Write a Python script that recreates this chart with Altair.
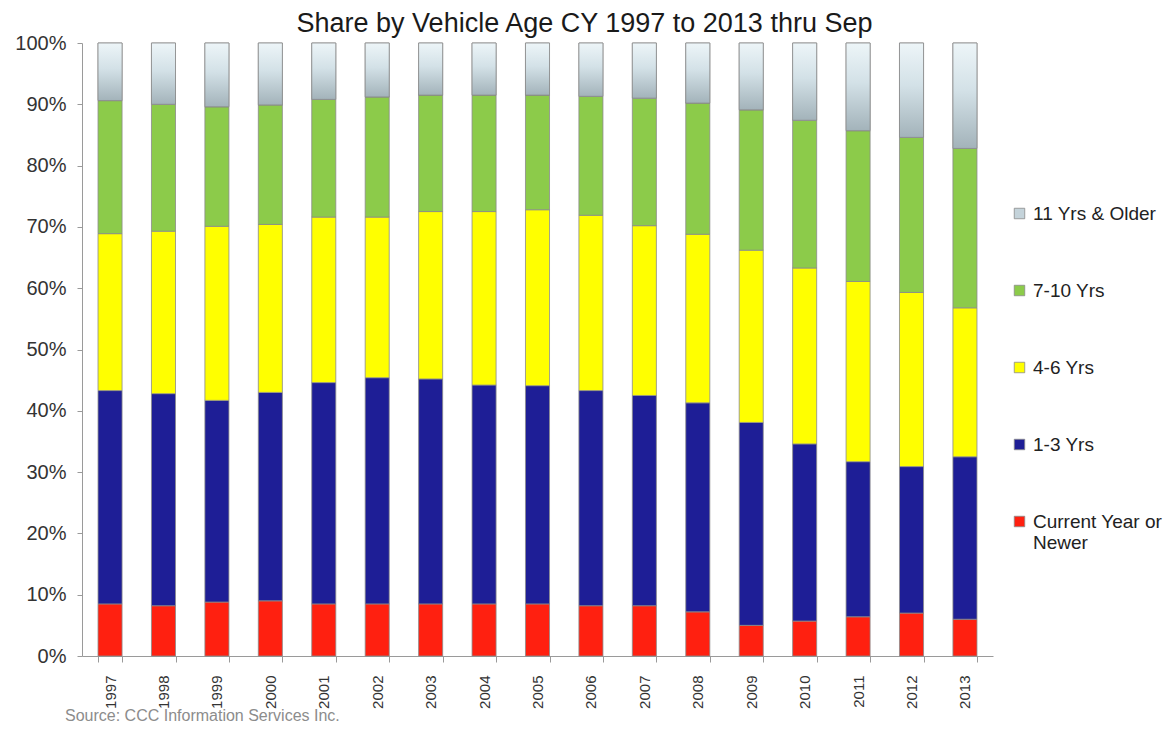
import altair as alt
import pandas as pd

years = [str(y) for y in range(1997, 2014)]
series = ["Current Year or Newer", "1-3 Yrs", "4-6 Yrs", "7-10 Yrs", "11 Yrs & Older"]
colors = ["#FF2010", "#1E1E96", "#FFFF00", "#8CCB4A", "#C4D3DA"]

current = [8.5, 8.2, 8.8, 9.0, 8.5, 8.5, 8.5, 8.5, 8.5, 8.2, 8.2, 7.2, 5.0, 5.7, 6.4, 7.0, 6.0]
yrs_1_3 = [34.8, 34.6, 32.9, 34.0, 36.1, 36.9, 36.7, 35.7, 35.6, 35.1, 34.3, 34.1, 33.1, 28.9, 25.3, 23.9, 26.5]
yrs_4_6 = [25.6, 26.5, 28.4, 27.4, 27.0, 26.2, 27.3, 28.3, 28.7, 28.6, 27.7, 27.5, 28.1, 28.7, 29.4, 28.4, 24.3]
yrs_7_10 = [21.7, 20.7, 19.5, 19.5, 19.2, 19.6, 19.0, 19.0, 18.7, 19.4, 20.8, 21.4, 22.9, 24.1, 24.6, 25.3, 26.0]
yrs_11 = [9.4, 10.0, 10.4, 10.1, 9.2, 8.8, 8.5, 8.5, 8.5, 8.7, 9.0, 9.8, 10.9, 12.6, 14.3, 15.4, 17.2]

title_text = "Share by Vehicle Age CY 1997 to 2013 thru Sep"
source_text = "Source: CCC  Information Services Inc."

all_vals = [current, yrs_1_3, yrs_4_6, yrs_7_10, yrs_11]
rows = []
for i, s in enumerate(series):
    for y, v in zip(years, all_vals[i]):
        rows.append({"Year": y, "Series": s, "Share": v, "Order": i})
df = pd.DataFrame(rows)

# top (oldest) segment: start = sum of the lower four
old_rows = []
for j, y in enumerate(years):
    base = sum(all_vals[k][j] for k in range(4))
    old_rows.append({"Year": y, "Start": base, "End": base + yrs_11[j]})
df_old = pd.DataFrame(old_rows)

FONT = "Liberation Sans"
x_enc = alt.X("Year:N", sort=years, title=None,
              scale=alt.Scale(paddingInner=0.55, paddingOuter=0.3),
              axis=alt.Axis(labelAngle=270, labelFontSize=15, labelColor="#333333",
                            labelFont=FONT, tickBand="extent", domainColor="#9a9a9a",
                            tickColor="#9a9a9a", tickSize=6, labelPadding=13,
                            labelBaseline="middle", labelAlign="right"))
y_scale = alt.Scale(domain=[0, 100], nice=False)

bars = alt.Chart(df).mark_bar(stroke="#8a8a8a", strokeWidth=0.8).encode(
    x=x_enc,
    y=alt.Y("Share:Q", stack="zero", title=None, scale=y_scale,
            axis=alt.Axis(values=list(range(0, 101, 10)), labelExpr="datum.value + '%'",
                          labelFontSize=20, labelColor="#333333", labelFont=FONT,
                          grid=False, domainColor="#9a9a9a", tickColor="#9a9a9a",
                          tickSize=5, labelPadding=11)),
    color=alt.Color("Series:N", scale=alt.Scale(domain=series, range=colors),
                    sort=series,
                    legend=alt.Legend(title=None, orient="none", legendX=928, legendY=161,
                                      direction="vertical", symbolType="square",
                                      symbolSize=110, symbolStrokeColor="#8a8a8a",
                                      symbolStrokeWidth=0.8,
                                      labelFontSize=19, labelFont=FONT, labelColor="#222222",
                                      rowPadding=57, labelOffset=4, labelLimit=300,
                                      values=series[::-1],
                                      labelExpr="datum.label == 'Current Year or Newer' ? ['Current Year or', 'Newer'] : datum.label")),
    order=alt.Order("Order:Q", sort="ascending"),
)

grad = alt.Gradient(gradient="linear", x1=0, y1=0, x2=0, y2=1,
                    stops=[alt.GradientStop(color="#EDF5F8", offset=0),
                           alt.GradientStop(color="#D3E1E7", offset=0.45),
                           alt.GradientStop(color="#A3B3BA", offset=1)])
old = alt.Chart(df_old).mark_bar(color=grad, stroke="#8a8a8a", strokeWidth=0.8).encode(
    x=alt.X("Year:N", sort=years),
    y=alt.Y("Start:Q", scale=y_scale),
    y2="End:Q",
)

src_df = pd.DataFrame({"t": [source_text]})
source = alt.Chart(src_df).mark_text(align="left", baseline="middle", fontSize=16,
                                     font=FONT, color="#8c8c8c").encode(
    text="t:N", x=alt.value(-17), y=alt.value(716 - 43)
)

chart = alt.layer(bars, old, source).properties(
    width=911, height=613,
    title=alt.TitleParams(title_text, fontSize=27, font=FONT, fontWeight="normal",
                          color="#1a1a1a", anchor="middle", dx=47, offset=-5),
    autosize=alt.AutoSizeParams(type="none"),
    padding={"left": 74, "top": 35, "right": 174, "bottom": 69},
).configure_view(stroke=None)

chart.save("out.html", embed_options={"renderer": "svg", "actions": False})
